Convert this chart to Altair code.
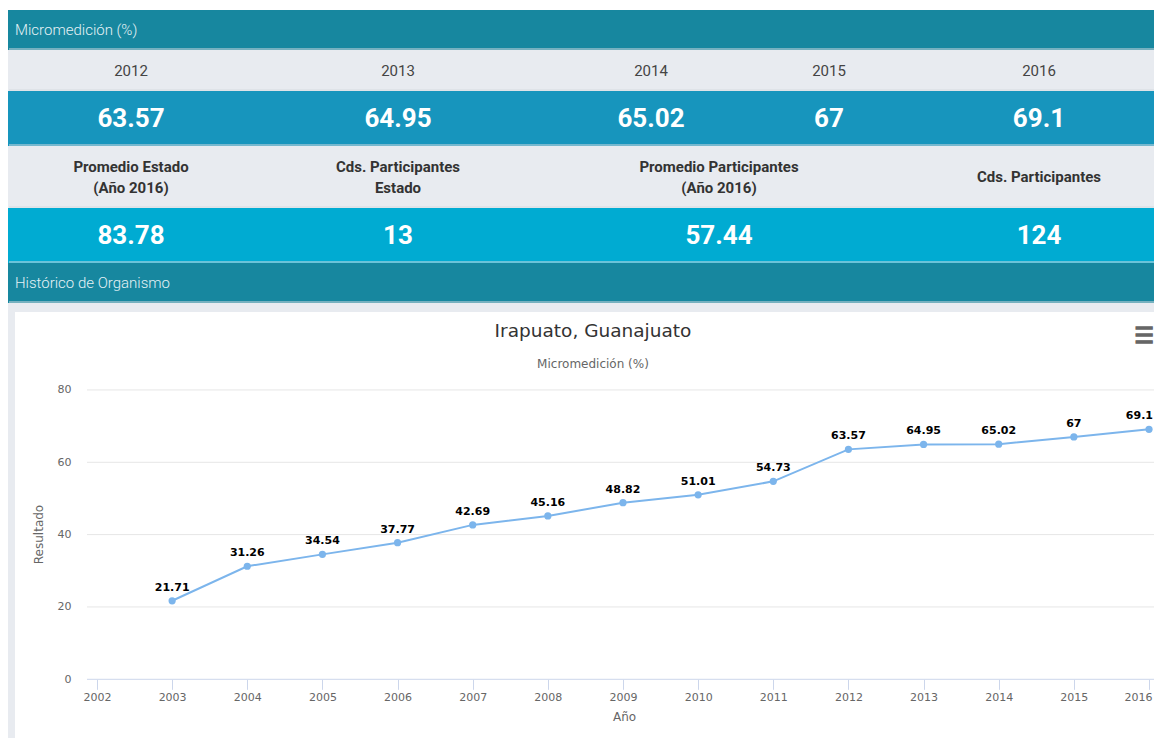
import altair as alt
import pandas as pd

# ---------------- data ----------------
years = [2003, 2004, 2005, 2006, 2007, 2008, 2009, 2010, 2011, 2012, 2013, 2014, 2015, 2016]
values = [21.71, 31.26, 34.54, 37.77, 42.69, 45.16, 48.82, 51.01, 54.73, 63.57, 64.95, 65.02, 67, 69.1]
axis_years = list(range(2002, 2017))
y_ticks = [0, 20, 40, 60, 80]
grid_vals = [20, 40, 60, 80]
zero_line = [0]

stat_years = ["2012", "2013", "2014", "2015", "2016"]
stat_values = ["63.57", "64.95", "65.02", "67", "69.1"]
kpi_labels = [["Promedio Estado", "(Año 2016)"], ["Cds. Participantes", "Estado"],
              ["Promedio Participantes", "(Año 2016)"], ["Cds. Participantes"]]
kpi_values = ["83.78", "13", "57.44", "124"]

header1 = ["Micromedición (%)"]
header2 = ["Histórico de Organismo"]
chart_title = ["Irapuato, Guanajuato"]
chart_subtitle = ["Micromedición (%)"]

# ---------------- layout ----------------
W = 1154
YEAR_COL_X = [123, 390, 643, 821, 1031]
KPI_COL_X = [123, 390, 711, 1031]
LINE_H = 21

TEAL = "#17879f"
GRAY = "#e8ebf0"
BLUE = "#1795bd"
CYAN = "#00abd2"
BORDER = "#d6dbe0"

xs_table = alt.Scale(domain=[0, W], range=[0, W], nice=False, zero=False)
dummy = pd.DataFrame({"t": [""]})


def bottom_border(height):
    return alt.Chart(dummy).mark_rule(color=BORDER, strokeWidth=1).encode(
        y=alt.value(height - 1), x=alt.value(1), x2=alt.value(W - 2))


def header_band(label):
    df = pd.DataFrame({"t": label})
    txt = alt.Chart(df).mark_text(
        align="left", baseline="middle", font="Roboto", fontSize=15,
        fontWeight=300, color="#e4f1f5"
    ).encode(x=alt.value(7), text="t:N")
    return alt.layer(txt, bottom_border(40)).properties(
        width=W, height=40, view=alt.ViewBackground(fill=TEAL, stroke=None))


def table_band(texts, xpos, height, fill, color, size, weight):
    # every cell may hold one or more lines; lines are centred on the row
    rows = []
    for cell, x in zip(texts, xpos):
        lines = cell if isinstance(cell, list) else [cell]
        n = len(lines)
        for i, line in enumerate(lines):
            rows.append({"t": line, "x": x, "ly": (i - (n - 1) / 2) * LINE_H})
    df = pd.DataFrame(rows)
    txt = alt.Chart(df).mark_text(
        align="center", baseline="middle", font="Roboto", fontSize=size,
        fontWeight=weight, color=color
    ).encode(
        x=alt.X("x:Q", scale=xs_table, axis=None),
        y=alt.Y("ly:Q", scale=alt.Scale(domain=[-height / 2, height / 2], range=[0, height],
                                        nice=False, zero=False), axis=None),
        text="t:N"
    )
    return alt.layer(txt, bottom_border(height)).properties(
        width=W, height=height, view=alt.ViewBackground(fill=fill, stroke=None))


def blank(w, h, fill):
    return alt.Chart(dummy).mark_text(fontSize=1).encode(
        text="t:N").properties(width=w, height=h, view=alt.ViewBackground(fill=fill, stroke=None))


band_h1 = header_band(header1)
band_years = table_band(stat_years, YEAR_COL_X, 41, GRAY, "#444444", 15, 400)
band_vals = table_band(stat_values, YEAR_COL_X, 55, BLUE, "white", 26, "bold")
band_labels = table_band(kpi_labels, KPI_COL_X, 62, GRAY, "#333333", 15, "bold")
band_kpis = table_band(kpi_values, KPI_COL_X, 55, CYAN, "white", 26, "bold")
band_h2 = header_band(header2)

# ---------------- line chart card ----------------
CW, CH = 1147, 426
xscale = alt.Scale(domain=[2000.909, 2016.173], nice=False, zero=False)
yscale = alt.Scale(domain=[-16.23, 101.55], nice=False, zero=False)

last_year_test = f"datum.value == {axis_years[-1]}"
xaxis = alt.Axis(values=axis_years, format="d", grid=False, domain=False, ticks=True,
                 tickSize=10, tickColor="#ccd6eb", tickWidth=1, labelPadding=2,
                 offset=-58.7, labelColor="#666666", labelFont="DejaVu Sans",
                 labelFontSize=11, labelFlush=False, labelOverlap=False,
                 labelAlign={"condition": {"test": last_year_test, "value": "right"},
                             "value": "center"},
                 labelOffset={"condition": {"test": last_year_test, "value": 3},
                              "value": 0},
                 title="Año", titleX=609, titleY=37, titleBaseline="middle",
                 titleAlign="center", titleFont="DejaVu Sans", titleFontSize=12,
                 titleColor="#666666", titleFontWeight="normal")
yaxis = alt.Axis(values=y_ticks, grid=False, domain=False, ticks=False, tickSize=0,
                 labelPadding=16, offset=-72, labelColor="#666666",
                 labelFont="DejaVu Sans", labelFontSize=11,
                 title="Resultado", titleX=-49, titleY=222, titleAngle=270,
                 titleAlign="center", titleBaseline="middle", titleFont="DejaVu Sans",
                 titleFontSize=12, titleColor="#666666", titleFontWeight="normal")

X = alt.X("year:Q", scale=xscale, axis=xaxis)
Y = alt.Y("value:Q", scale=yscale, axis=yaxis)

df_line = pd.DataFrame({"year": years, "value": values,
                        "label": [f"{v:g}" for v in values]})
df_grid = pd.DataFrame({"value": grid_vals})
df_zero = pd.DataFrame({"value": zero_line})

grid = alt.Chart(df_grid).mark_rule(color="#e6e6e6", strokeWidth=1).encode(
    y=Y, x=alt.value(72), x2=alt.value(CW - 1))
zero = alt.Chart(df_zero).mark_rule(color="#ccd6eb", strokeWidth=1).encode(
    y=Y, x=alt.value(72), x2=alt.value(CW - 1))
line = alt.Chart(df_line).mark_line(color="#7cb5ec", strokeWidth=2).encode(x=X, y=Y)
pts = alt.Chart(df_line).mark_circle(color="#7cb5ec", opacity=1, size=52).encode(x=X, y=Y)
lbl_style = dict(font="DejaVu Sans", fontSize=11, fontWeight="bold", color="#000000",
                 baseline="middle", dy=-13)
lbls = alt.Chart(df_line).transform_filter(
    f"datum.year < {years[-1]}").mark_text(**lbl_style).encode(x=X, y=Y, text="label:N")
lbl_last = alt.Chart(df_line).transform_filter(
    f"datum.year == {years[-1]}").mark_text(align="right", dx=4, **lbl_style).encode(
    x=X, y=Y, text="label:N")

title = alt.Chart(pd.DataFrame({"t": chart_title})).mark_text(
    font="DejaVu Sans", fontSize=18.5, color="#333333", baseline="middle", align="center"
).encode(x=alt.value(578), y=alt.value(19), text="t:N")
subtitle = alt.Chart(pd.DataFrame({"t": chart_subtitle})).mark_text(
    font="DejaVu Sans", fontSize=12, color="#666666", baseline="middle", align="center"
).encode(x=alt.value(578), y=alt.value(52), text="t:N")
menu = alt.Chart(pd.DataFrame({"t": ["☰"]})).mark_text(
    font="DejaVu Sans", fontSize=22, fontWeight="bold", color="#666666",
    stroke="#666666", strokeWidth=1.3, baseline="middle", align="center"
).encode(x=alt.value(1129), y=alt.value(24), text="t:N")

card = alt.layer(grid, zero, line, pts, lbls, lbl_last, title, subtitle, menu).properties(
    width=CW, height=CH, view=alt.ViewBackground(fill="white", stroke=None))

bottom = alt.hconcat(blank(7, CH, GRAY), card, spacing=0, bounds="flush")

chart = alt.vconcat(
    band_h1, band_years, band_vals, band_labels, band_kpis, band_h2,
    blank(W, 9, GRAY), bottom, spacing=0, bounds="flush"
).properties(
    padding={"left": 0, "right": -8, "top": 2, "bottom": 0}
).configure_view(stroke=None).configure_concat(spacing=0)

chart.save("out.html", embed_options={"renderer": "svg", "actions": False})
